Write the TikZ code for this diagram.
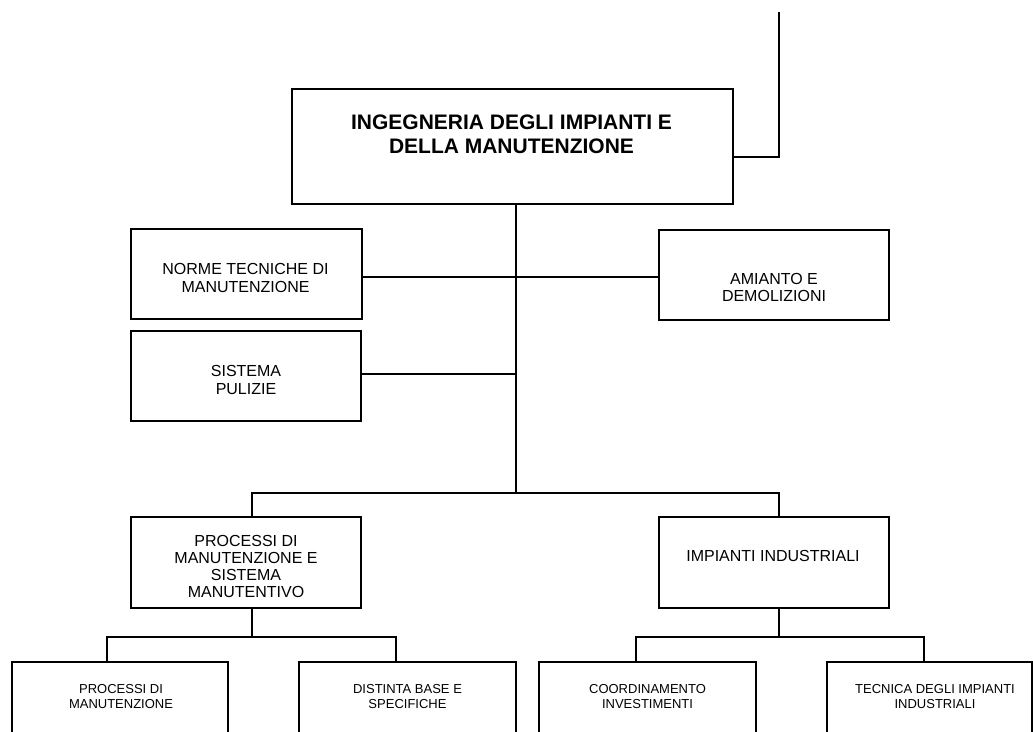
\documentclass[tikz,border=0pt]{standalone}
\usepackage{fontspec}
\setmainfont{Liberation Sans}
\begin{document}
\begin{tikzpicture}[x=1pt,y=-1pt,
  box/.style={draw, line width=2pt, rectangle, inner sep=0pt, outer sep=0pt},
  sz/.style 2 args={minimum width=#1pt, minimum height=#2pt},
  wire/.style={line width=2pt},
  titletext/.style={align=center, inner sep=0pt, font=\fontsize{21}{24}\selectfont\bfseries},
  midtext/.style={align=center, inner sep=0pt, font=\fontsize{16}{18}\selectfont},
  tighttext/.style={align=center, inner sep=0pt, font=\fontsize{16}{17}\selectfont},
  lowtext/.style={align=center, inner sep=0pt, font=\fontsize{13}{15}\selectfont}]
\useasboundingbox (0,0) rectangle (1033,731);
\clip (0,0) rectangle (1033,731);
\fill[white] (0,0) rectangle (1033,731);

% boxes
\node[box, sz={441}{115}] (main) at (512.5,146.5) {};
\node[box, sz={231}{90}] (norme) at (246.5,274) {};
\node[box, sz={230}{90}] (amianto) at (774,275) {};
\node[box, sz={230}{90}] (sistema) at (246,376) {};
\node[box, sz={230}{91}] (proc) at (246,562.5) {};
\node[box, sz={230}{91}] (impi) at (774,562.5) {};
\node[box, sz={216}{90}] (b1) at (120,707) {};
\node[box, sz={217}{90}] (b2) at (407.5,707) {};
\node[box, sz={217}{90}] (b3) at (647.5,707) {};
\node[box, sz={205}{90}] (b4) at (929.5,707) {};

% labels
\node[titletext] (mainT) at (511.5,134) {INGEGNERIA DEGLI IMPIANTI E\\DELLA MANUTENZIONE};
\node[midtext] (normeT) at (245.5,278) {NORME TECNICHE DI\\MANUTENZIONE};
\node[tighttext] (amiantoT) at (774,287) {AMIANTO E\\DEMOLIZIONI};
\node[midtext] (sistemaT) at (246,379.5) {SISTEMA\\PULIZIE};
\node[tighttext] (procT) at (246,566) {PROCESSI DI\\MANUTENZIONE E\\SISTEMA\\MANUTENTIVO};
\node[midtext] (impiT) at (773,556) {IMPIANTI INDUSTRIALI};
\node[lowtext] (b1T) at (121,696.5) {PROCESSI DI\\MANUTENZIONE};
\node[lowtext] (b2T) at (407.5,696.5) {DISTINTA BASE E\\SPECIFICHE};
\node[lowtext] (b3T) at (647.5,696.5) {COORDINAMENTO\\INVESTIMENTI};
\node[lowtext] (b4T) at (935,696.5) {TECNICA DEGLI IMPIANTI\\INDUSTRIALI};

% junction points
\coordinate (top) at (779,12);
\coordinate (hub) at (516,493);
\coordinate (pbar) at (252,637);
\coordinate (ibar) at (779,637);

% connectors
\draw[wire] ([yshift=-10.5pt]main.east) -| (top);
\draw[wire] ([xshift=3.5pt]main.south) -- (hub);
\draw[wire] ([yshift=-3pt]norme.east) -- ([yshift=-2pt]amianto.west);
\draw[wire] ([yshift=2pt]sistema.east) -- ([yshift=2pt]sistema.east -| hub);
\draw[wire] ([xshift=6pt]proc.north) |- (hub) -| ([xshift=5pt]impi.north);
\draw[wire] ([xshift=6pt]proc.south) -- (pbar);
\draw[wire] ([xshift=-13pt]b1.north) |- (pbar) -| ([xshift=-11.5pt]b2.north);
\draw[wire] ([xshift=5pt]impi.south) -- (ibar);
\draw[wire] ([xshift=-11.5pt]b3.north) |- (ibar) -| ([xshift=-5.5pt]b4.north);
\end{tikzpicture}
\end{document}
